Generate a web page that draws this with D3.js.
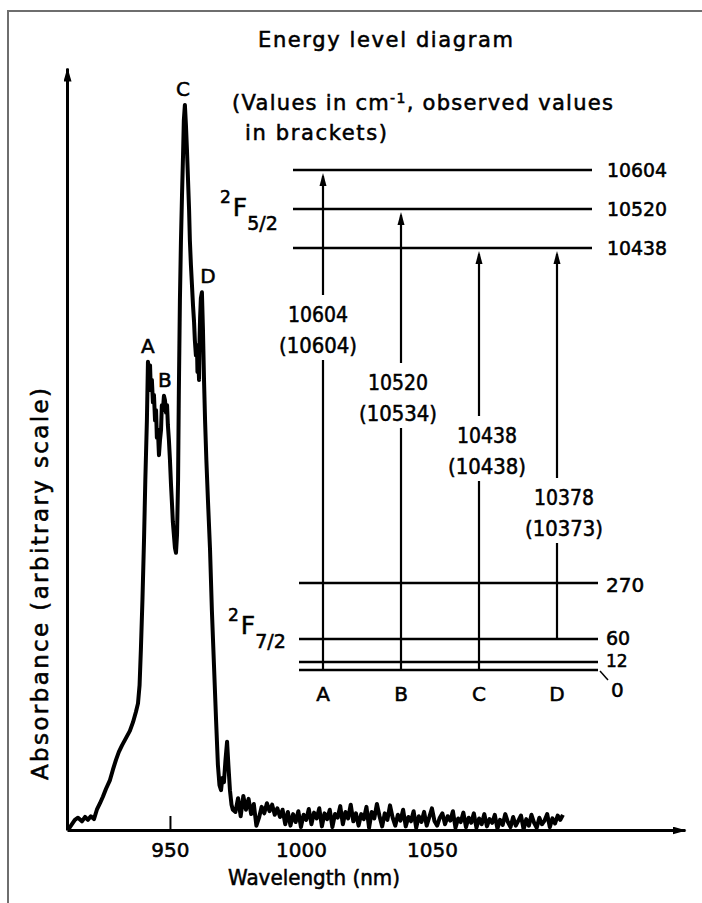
<!DOCTYPE html>
<html>
<head>
<meta charset="utf-8">
<script src="https://cdn.jsdelivr.net/npm/d3@7"></script>
<style>
  body { margin: 0; background: #fff; }
  svg { display: block; }
  text { font-family: 'DejaVu Sans', sans-serif; fill: #000; stroke: #000; stroke-width: 0.55px; }
</style>
</head>
<body>
<svg id="chart" width="702" height="903"></svg>
<script>
// absorption band, wavelength in nm, absorbance in arbitrary units
const bandWl = [
  911.1, 912.6, 913.7, 914.9, 916.4, 917.6, 918.7, 919.8, 921.0, 922.1,
  923.3, 924.4, 925.6, 927.1, 928.2, 929.4, 930.5, 931.7, 933.2, 934.7,
  935.9, 937.0, 937.8, 938.4, 938.9, 939.5, 940.1, 940.6, 941.2, 941.6,
  942.0, 942.4, 942.7, 943.1, 943.5, 943.9, 944.3, 944.7, 945.0, 945.4,
  945.8, 946.2, 946.6, 946.9, 947.3, 947.7, 948.1, 948.5, 948.9, 949.2,
  949.6, 950.0, 950.4, 950.8, 951.1, 951.5, 951.9, 952.3, 952.7, 953.1,
  953.4, 953.8, 954.2, 954.6, 955.0, 955.3, 955.7, 956.1, 956.5, 956.9,
  957.3, 957.6, 958.0, 958.4, 958.8, 959.2, 959.5, 959.9, 960.3, 960.5,
  960.7, 961.1, 961.3, 961.5, 961.8, 962.2, 962.6, 963.0, 963.4, 963.9,
  964.5, 965.3, 966.0, 966.8, 967.6, 968.3, 968.9, 969.5, 970.0, 970.6,
  971.2, 971.8, 972.3, 972.9, 973.5, 974.0
];
const bandAbs = [
  0, 0.8, 1.4, 1.7, 1.2, 1.8, 1.4, 1.9, 1.5, 2.8,
  3.7, 4.6, 5.7, 6.9, 8.3, 9.7, 10.8, 11.7, 12.7, 13.7,
  14.9, 16.3, 17.5, 20.0, 24.9, 31.8, 40.1, 48.4, 56.6, 64.7,
  63.3, 64.2, 60.8, 62.2, 59.1, 60.1, 56.6, 58.0, 54.2, 55.3,
  51.8, 53.9, 55.3, 58.7, 58.0, 60.0, 59.4, 57.7, 58.7, 56.0,
  53.9, 51.1, 47.7, 44.9, 42.6, 40.8, 39.0, 38.3, 40.8, 48.4,
  60.8, 73.2, 81.5, 87.7, 93.3, 98.1, 100.2, 97.4, 93.9, 89.8,
  85.7, 81.5, 78.1, 75.3, 72.5, 70.2, 67.7, 65.6, 67.0, 63.3,
  66.3, 62.2, 67.7, 70.7, 73.5, 74.3, 69.1, 62.2, 56.6, 51.1,
  45.6, 38.7, 30.4, 22.8, 15.2, 9.0, 6.2, 5.5, 7.2, 6.6,
  9.7, 12.2, 9.0, 5.5, 3.5, 2.8
];
// noisy baseline after the band
const tailWl = [
  975, 976, 977, 978, 979, 980, 981, 982, 983, 984,
  985, 986, 987, 988, 989, 990, 991, 992, 993, 994,
  995, 996, 997, 998, 999, 1000, 1001, 1002, 1003, 1004,
  1005, 1006, 1007, 1008, 1009, 1010, 1011, 1012, 1013, 1014,
  1015, 1016, 1017, 1018, 1019, 1020, 1021, 1022, 1023, 1024,
  1025, 1026, 1027, 1028, 1029, 1030, 1031, 1032, 1033, 1034,
  1035, 1036, 1037, 1038, 1039, 1040, 1041, 1042, 1043, 1044,
  1045, 1046, 1047, 1048, 1049, 1050, 1051, 1052, 1053, 1054,
  1055, 1056, 1057, 1058, 1059, 1060, 1061, 1062, 1063, 1064,
  1065, 1066, 1067, 1068, 1069, 1070, 1071, 1072, 1073, 1074,
  1075, 1076, 1077, 1078, 1079, 1080, 1081, 1082, 1083, 1084,
  1085, 1086, 1087, 1088, 1089, 1090, 1091, 1092, 1093, 1094,
  1095, 1096, 1097, 1098, 1099, 1100
];
const tailAbs = [
  2.5, 4.4, 1.9, 4.7, 2.8, 4.3, 2.2, 3.6, 0.6, 1.7,
  3.2, 2.3, 3.7, 2.6, 3.5, 2.1, 3.0, 1.8, 2.8, 0.8,
  2.5, 0.6, 2.2, 1.1, 2.6, 0.4, 2.1, 1.4, 2.9, 0.8,
  2.4, 1.6, 3.0, 0.5, 2.3, 1.5, 2.8, 0.4, 2.2, 1.7,
  3.3, 0.8, 2.5, 1.6, 3.5, 1.2, 2.3, 0.6, 2.2, 1.5,
  3.2, 0.3, 2.5, 1.6, 3.6, 1.9, 0.5, 2.3, 1.4, 3.4,
  1.7, 0.6, 2.1, 1.3, 2.8, 0.5, 1.8, 1.2, 2.6, 0.3,
  1.9, 1.1, 2.5, 0.6, 1.8, 3.0, 1.2, 0.6, 1.7, 2.3,
  0.8, 1.9, 1.3, 2.6, 0.3, 1.6, 1.1, 2.4, 0.4, 1.7,
  1.0, 2.3, 0.3, 1.6, 0.8, 2.2, 0.5, 1.5, 1.0, 2.1,
  0.2, 1.4, 0.7, 2.2, 1.1, 0.4, 1.8, 0.6, 1.3, 2.0,
  0.1, 1.5, 0.6, 2.1, 1.0, 0.3, 1.7, 0.8, 1.3, 2.2,
  0.4, 1.6, 0.9, 2.0, 1.4, 2.1
];
const xTicks = [950, 1000, 1050];

// peaks marked on the spectrum
const peakNames = ['A', 'B', 'C', 'D'];
const peakWl = [941.6, 948.1, 955.7, 962.2];
const peakAbs = [64.7, 60.0, 100.2, 74.3];

// energy levels, cm-1
const upperLevels = [10604, 10520, 10438];
const lowerLevels = [270, 60, 12, 0];
const transFrom = [0, 0, 0, 60];
const transTo = [10604, 10520, 10438, 10438];
const calcValues = [10604, 10520, 10438, 10378];
const obsValues = [10604, 10534, 10438, 10373];

const svg = d3.select('#chart');

// scanned page frame
svg.append('path')
  .attr('d', 'M8,903V11H702')
  .attr('fill', 'none')
  .attr('stroke', '#6e6e6e')
  .attr('stroke-width', 2);

svg.append('defs').append('marker')
  .attr('id', 'arrow')
  .attr('markerUnits', 'userSpaceOnUse')
  .attr('viewBox', '0 0 14 8')
  .attr('refX', 13)
  .attr('refY', 4)
  .attr('markerWidth', 14)
  .attr('markerHeight', 8)
  .attr('orient', 'auto')
  .append('path')
  .attr('d', 'M0,0L14,4L0,8Z');

let x = d3.scaleLinear().domain([910.7, 1146.6]).range([67, 685]);
let y = d3.scaleLinear().domain([0, 105.3]).range([830, 68]);

let x_axis = d3.axisBottom(x)
  .tickValues(xTicks)
  .tickFormat(d3.format('d'))
  .tickSizeInner(-14)
  .tickSizeOuter(0)
  .tickPadding(13);

let gx = svg.append('g')
  .attr('transform', 'translate(0,830)')
  .call(x_axis);
gx.select('.domain')
  .attr('stroke-width', 3)
  .attr('marker-end', 'url(#arrow)');
gx.selectAll('.tick line')
  .attr('stroke-width', 2)
  .attr('opacity', function(d) { return d === 950 ? 1 : 0; });
gx.selectAll('.tick text')
  .attr('font-size', 20)
  .attr('font-family', 'DejaVu Sans');

let gy = svg.append('g')
  .attr('transform', 'translate(67,0)')
  .call(d3.axisLeft(y).tickValues([]).tickSizeOuter(0));
gy.select('.domain')
  .attr('stroke-width', 3)
  .attr('marker-end', 'url(#arrow)');

svg.append('text')
  .attr('x', 314)
  .attr('y', 885)
  .attr('text-anchor', 'middle')
  .attr('font-size', 21)
  .attr('textLength', 172)
  .attr('lengthAdjust', 'spacingAndGlyphs')
  .text('Wavelength (nm)');

svg.append('text')
  .attr('transform', 'translate(48,584) rotate(-90)')
  .attr('text-anchor', 'middle')
  .attr('font-size', 23)
  .attr('textLength', 392)
  .attr('lengthAdjust', 'spacing')
  .text('Absorbance (arbitrary scale)');

// spectrum
const spectrum = bandWl.map(function(w, i) { return [w, bandAbs[i]]; })
  .concat(tailWl.map(function(w, i) { return [w, tailAbs[i]]; }));

svg.append('path')
  .datum(spectrum)
  .attr('fill', 'none')
  .attr('stroke', '#000')
  .attr('stroke-width', 4)
  .attr('stroke-linejoin', 'round')
  .attr('d', d3.line()
    .x(function(d) { return x(d[0]); })
    .y(function(d) { return y(d[1]); }));

const peakDx = [0, 0, -2, 6];
svg.selectAll('.peak-label')
  .data(peakNames)
  .enter().append('text')
  .attr('class', 'peak-label')
  .attr('x', function(d, i) { return x(peakWl[i]) + peakDx[i]; })
  .attr('y', function(d, i) { return y(peakAbs[i]) - 9; })
  .attr('text-anchor', 'middle')
  .attr('font-size', 20)
  .text(function(d) { return d; });

// energy level diagram
svg.append('text')
  .attr('x', 258)
  .attr('y', 47)
  .attr('font-size', 21)
  .attr('textLength', 255)
  .attr('lengthAdjust', 'spacing')
  .text('Energy level diagram');

let sub = svg.append('text')
  .attr('x', 232)
  .attr('y', 110)
  .attr('font-size', 21)
  .attr('textLength', 381)
  .attr('lengthAdjust', 'spacing');
sub.append('tspan').text('(Values in cm');
sub.append('tspan').attr('dy', -7).attr('font-size', 14).text('-1');
sub.append('tspan').attr('dy', 7).text(', observed values');

svg.append('text')
  .attr('x', 245)
  .attr('y', 140)
  .attr('font-size', 21)
  .attr('textLength', 142)
  .attr('lengthAdjust', 'spacing')
  .text('in brackets)');

let yUpper = d3.scaleLinear().domain([10438, 10520, 10604]).range([248, 209, 170]);
let yLower = d3.scaleLinear().domain([0, 12, 60, 270]).range([670, 662, 639, 583]);
let xCol = d3.scalePoint().domain(peakNames).range([323, 557]);

svg.selectAll('.upper-level')
  .data(upperLevels)
  .enter().append('line')
  .attr('class', 'upper-level')
  .attr('x1', 293).attr('x2', 592)
  .attr('y1', function(d) { return yUpper(d); })
  .attr('y2', function(d) { return yUpper(d); })
  .attr('stroke', '#000')
  .attr('stroke-width', 2.6);

svg.selectAll('.upper-label')
  .data(upperLevels)
  .enter().append('text')
  .attr('class', 'upper-label')
  .attr('x', 607)
  .attr('y', function(d) { return yUpper(d) + 7; })
  .attr('font-size', 20)
  .attr('textLength', 60)
  .attr('lengthAdjust', 'spacingAndGlyphs')
  .text(function(d) { return d; });

svg.selectAll('.lower-level')
  .data(lowerLevels)
  .enter().append('line')
  .attr('class', 'lower-level')
  .attr('x1', 299).attr('x2', 598)
  .attr('y1', function(d) { return yLower(d); })
  .attr('y2', function(d) { return yLower(d); })
  .attr('stroke', '#000')
  .attr('stroke-width', 2.6);

const lowerDy = [9, 6, 5, 27];
const lowerDx = [0, 0, 0, 5];
const lowerSize = [20, 19, 17, 20];
svg.selectAll('.lower-label')
  .data(lowerLevels)
  .enter().append('text')
  .attr('class', 'lower-label')
  .attr('x', function(d, i) { return 606 + lowerDx[i]; })
  .attr('y', function(d, i) { return yLower(d) + lowerDy[i]; })
  .attr('font-size', function(d, i) { return lowerSize[i]; })
  .text(function(d) { return d; });

// little leader from the 0 level to its label
svg.append('line')
  .attr('x1', 600).attr('x2', 608)
  .attr('y1', yLower(0) + 1).attr('y2', yLower(0) + 10)
  .attr('stroke', '#000')
  .attr('stroke-width', 1.5);

// transitions, broken round their labels
const labelBase = [322, 390, 443, 505];
const labelDx = [-5, -3, 8, 7];

peakNames.forEach(function(name, i) {
  const cx = xCol(name);
  const top = yUpper(transTo[i]);
  const bottom = yLower(transFrom[i]);
  const gapTop = labelBase[i] - 27;
  const gapBottom = labelBase[i] + 38;

  svg.append('line')
    .attr('x1', cx).attr('x2', cx)
    .attr('y1', top + 6).attr('y2', gapTop)
    .attr('stroke', '#000').attr('stroke-width', 2.2);
  svg.append('line')
    .attr('x1', cx).attr('x2', cx)
    .attr('y1', gapBottom).attr('y2', bottom)
    .attr('stroke', '#000').attr('stroke-width', 2.2);
  svg.append('path')
    .attr('d', 'M' + cx + ',' + (top + 3) + 'L' + (cx + 3.5) + ',' + (top + 16) +
      'L' + (cx - 3.5) + ',' + (top + 16) + 'Z')
    .attr('fill', '#000');

  svg.append('text')
    .attr('x', cx + labelDx[i])
    .attr('y', labelBase[i])
    .attr('text-anchor', 'middle')
    .attr('font-size', 21)
    .attr('textLength', 60)
    .attr('lengthAdjust', 'spacingAndGlyphs')
    .text(calcValues[i]);
  svg.append('text')
    .attr('x', cx + labelDx[i])
    .attr('y', labelBase[i] + 31)
    .attr('text-anchor', 'middle')
    .attr('font-size', 21)
    .attr('textLength', 78)
    .attr('lengthAdjust', 'spacingAndGlyphs')
    .text('(' + obsValues[i] + ')');

  svg.append('text')
    .attr('x', cx)
    .attr('y', 701)
    .attr('text-anchor', 'middle')
    .attr('font-size', 20)
    .text(name);
});

// term symbols
function term(x0, yBase, sup, sub) {
  let t = svg.append('text').attr('x', x0).attr('y', yBase);
  t.append('tspan').attr('font-size', 17).attr('dy', -13).text(sup);
  t.append('tspan').attr('font-size', 25).attr('dx', 2).attr('dy', 13).text('F');
  t.append('tspan').attr('font-size', 19).attr('dy', 14).text(sub);
}
term(220, 216, '2', '5/2');
term(228, 634, '2', '7/2');
</script>
</body>
</html>
